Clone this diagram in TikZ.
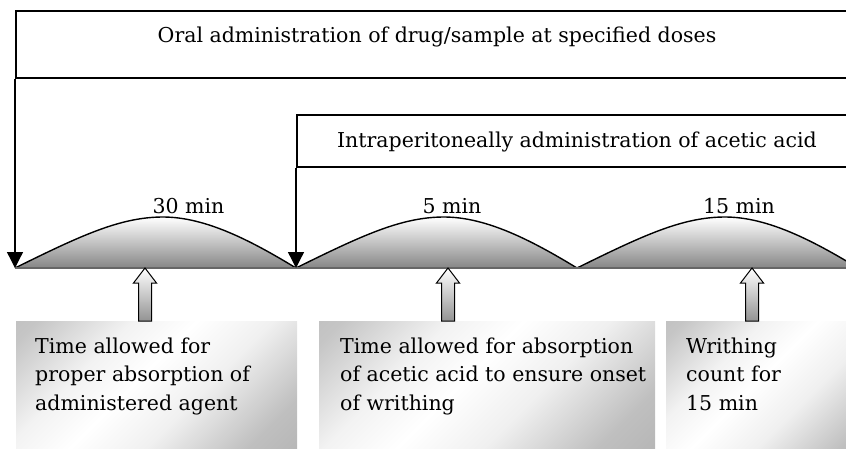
\documentclass[tikz,border=0pt]{standalone}
\usepackage{fontspec}
\setmainfont{DejaVu Serif}
\usetikzlibrary{arrows.meta}
\pgfdeclareverticalshading{boxshade}{100bp}{color(0bp)=(gray!70); color(25bp)=(gray!50); color(42bp)=(gray!12); color(55bp)=(white); color(66bp)=(gray!10); color(82bp)=(gray!45); color(100bp)=(gray!60)}
\begin{document}
\begin{tikzpicture}[x=1pt,y=-1pt,
  frame/.style={draw, line width=1.6pt, anchor=north west, inner sep=0pt},
  lbl/.style={anchor=base, inner sep=0pt, font=\fontsize{20.5}{28.5}\selectfont},
  txt/.style={anchor=north west, inner sep=0pt, align=left, font=\fontsize{20.5}{28.5}\selectfont},
  conn/.style={line width=1.3pt, -{Triangle[width=16pt,length=16pt]}},
  humpfill/.style={top color=white, bottom color=gray!95},
  humpline/.style={line width=1.4pt},
  hollow/.style={draw, line width=1pt, top color=white, bottom color=gray!85},
  tbox/.style={anchor=north west, inner sep=0pt, shading=boxshade, shading angle=45}
]
\clip (0,0) rectangle (846,448);
% timeline coordinates
\coordinate (t0) at (15,268);
\coordinate (t1) at (296,268);
\coordinate (t2) at (577,268);
\coordinate (t3) at (858,268);
% top boxes
\node[frame, minimum width=844pt, minimum height=67pt] (oral) at (15,10) {};
\node[lbl] (oralt) at (437,42) {Oral administration of drug/sample at specified doses};
\node[frame, minimum width=563pt, minimum height=52pt] (ip) at (296,114) {};
\node[lbl] (ipt) at (577,147) {Intraperitoneally administration of acetic acid};
% humps
\foreach \a in {15,296,577}{
  \shade[humpfill] (\a,268) .. controls (\a+65,236) and (\a+105,217) .. (\a+148,217)
     .. controls (\a+190,217) and (\a+235,240) .. (\a+281,268) -- cycle;
  \draw[humpline] (\a,268) .. controls (\a+65,236) and (\a+105,217) .. (\a+148,217)
     .. controls (\a+190,217) and (\a+235,240) .. (\a+281,268);
}
\draw[line width=1.3pt, black!60] (t0) -- (t3);
% vertical arrows
\draw[conn] (oral.south west) -- (t0);
\draw[conn] (ip.south west) -- (t1);
% duration labels
\node[lbl] (d1) at (188.5,213) {30 min};
\node[lbl] (d2) at (452,213) {5 min};
\node[lbl] (d3) at (739,213) {15 min};
% text boxes
\node[tbox, minimum width=281pt, minimum height=140pt] (ba) at (16,321) {};
\node[tbox, minimum width=336pt, minimum height=140pt] (bb) at (319,321) {};
\node[tbox, minimum width=214pt, minimum height=140pt] (bc) at (666,321) {};
\node[txt] (ta) at (35,333) {\strut Time allowed for\\proper absorption of\\administered agent};
\node[txt] (tb) at (340,333) {\strut Time allowed for absorption\\of acetic acid to ensure onset\\of writhing};
\node[txt] (tc) at (686,333) {\strut Writhing\\count for\\15 min};
% hollow up arrows
\foreach \c/\n in {145/ua,448/ub,752/uc}{
  \draw[hollow] (\c,268) -- (\c+11.5,283) -- (\c+6.5,283) -- (\c+6.5,321)
     -- (\c-6.5,321) -- (\c-6.5,283) -- (\c-11.5,283) -- cycle;
}
\end{tikzpicture}
\end{document}
